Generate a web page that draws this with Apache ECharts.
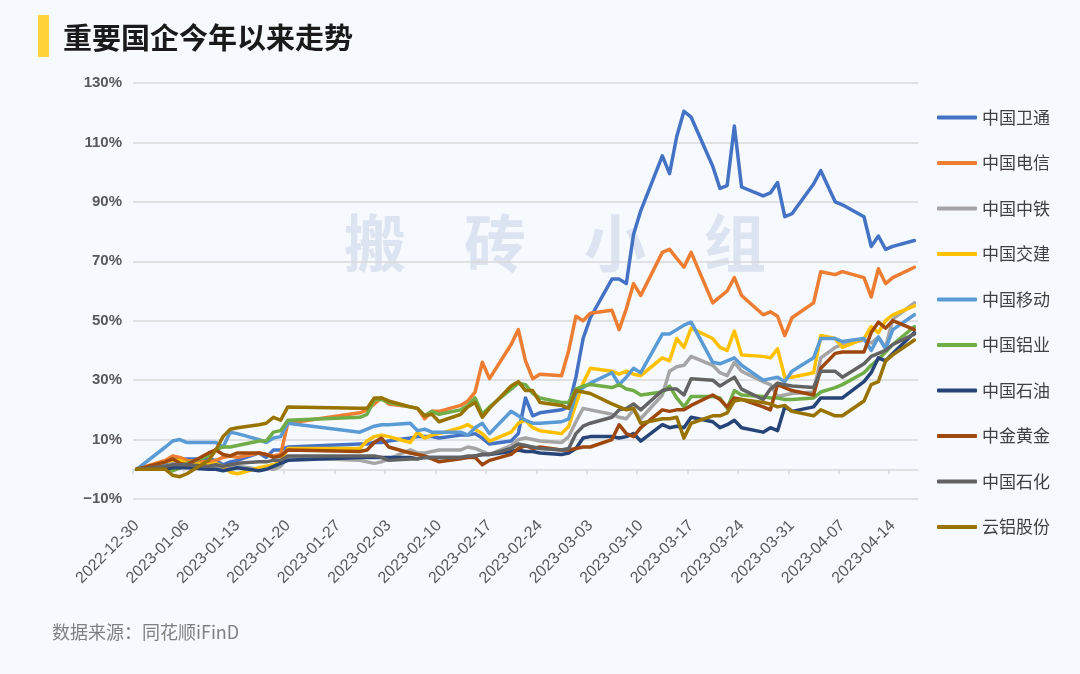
<!DOCTYPE html>
<html><head><meta charset="utf-8">
<script src="https://cdn.jsdelivr.net/npm/echarts@6/dist/echarts.min.js"></script>
<style>html,body{margin:0;padding:0;background:#f6f9fd}#c{width:1080px;height:674px}</style>
</head><body><div id="c"></div>
<script>
const dates = [
'2022-12-30','2023-01-03','2023-01-04','2023-01-05','2023-01-06',
'2023-01-09','2023-01-10','2023-01-11','2023-01-12','2023-01-13',
'2023-01-16','2023-01-17','2023-01-18','2023-01-19','2023-01-20',
'2023-01-30','2023-01-31','2023-02-01','2023-02-02','2023-02-03',
'2023-02-06','2023-02-07','2023-02-08','2023-02-09','2023-02-10',
'2023-02-13','2023-02-14','2023-02-15','2023-02-16','2023-02-17',
'2023-02-20','2023-02-21','2023-02-22','2023-02-23','2023-02-24',
'2023-02-27','2023-02-28','2023-03-01','2023-03-02','2023-03-03',
'2023-03-06','2023-03-07','2023-03-08','2023-03-09','2023-03-10',
'2023-03-13','2023-03-14','2023-03-15','2023-03-16','2023-03-17',
'2023-03-20','2023-03-21','2023-03-22','2023-03-23','2023-03-24',
'2023-03-27','2023-03-28','2023-03-29','2023-03-30','2023-03-31',
'2023-04-03','2023-04-04','2023-04-06','2023-04-07',
'2023-04-10','2023-04-11','2023-04-12','2023-04-13','2023-04-14',
'2023-04-17'];

const xTickLabels = ['2022-12-30','2023-01-06','2023-01-13','2023-01-20','2023-01-27','2023-02-03','2023-02-10','2023-02-17','2023-02-24','2023-03-03','2023-03-10','2023-03-17','2023-03-24','2023-03-31','2023-04-07','2023-04-14'];
const yTicks = [-10, 10, 30, 50, 70, 90, 110, 130];

const seriesNames = ['中国卫通','中国电信','中国中铁','中国交建','中国移动','中国铝业','中国石油','中金黄金','中国石化','云铝股份'];
const seriesColors = ['#4472C4','#ED7D31','#A5A5A5','#FFC000','#5B9BD5','#70AD47','#264478','#9E480E','#636363','#997300'];

const weitong = [0,2,3.5,3.5,3.5, 3.5,3,1.5,2.5,3, 5.5,4,6.5,6.5,7.5, 8.5,8.5,9,9,9.5, 10.5,11,11,11,10.5, 11.5,11.5,12,10.5,8.5, 9.5,12,24,18,19, 20,21,31,44,51, 64,64,62.5,79,87, 105.5,99.5,112,120.5,118.5, 102,94.5,95.5,115.5,95, 92,93,96.5,85,86, 96,100.5,90,89, 85,75,78.5,74,75, 77];
const dianxin = [0,3,4.5,4,3, 2.5,3,4,4.5,4, 5.5,5,4.5,5,15.5, 19,20,22,24,22, 21,20.5,17,19.5,19.5, 21.5,23,26,36,30.5, 42,47,36.5,30.5,32, 31.5,40,51.5,50,52.5, 53.5,47,54,62.5,58.5, 73,74,71,68,73, 56,58,60,64.5,58.5, 52,53,51.5,45,51, 56,66.5,65.5,66.5, 64.5,58,67.5,62.5,64.5, 68];
const zhongtie = [0,1,2,1.5,1.5, 1,0.5,0.5,0.5,1, 0,0.5,0,1,4, 3,2.5,2,2.5,3.5, 6.5,5.5,5.5,6,6.5, 6.5,7.5,7,6,5, 8,10,10.5,10,9.5, 9,11,16,20.5,20, 18.5,17.5,17,20,17, 25,33,34.5,35,38, 35,32.5,31.5,36,33, 29.5,28.5,24.5,25,25.5, 26,37.5,41,42, 43.5,42.5,44.5,41,50.5, 56];
const jiaojian = [0,2.5,3,3,2, 1.5,2,1,-1,-1.5, 0.5,1,1.5,2.5,7, 7,9.5,11,11.5,11, 9,12.5,10.5,11.5,12, 14,15,13.5,12,9.5, 12.5,15.5,16.5,14,13, 12,14.5,22,29,34, 33,32,33,32,31.5, 37.5,36.5,44,41,47.5, 44,41,40,46.5,38.5, 38,37.5,40.5,31,31, 32.5,45,44,41, 44,48,46,50,52, 55];
const yidong = [0,7.5,9.5,10,9, 9,9,7.5,12.5,12, 10,9,10.5,11,15.5, 12.5,13.5,14.5,15,15, 15.5,13,13.5,12.5,12.5, 12.5,11.5,14,15.5,12, 19.5,18,16.5,15.5,15.5, 16,17,25.5,27.5,29, 32.5,28.5,31,34,32.5, 45.5,45.5,47,48.5,49.5, 36,35.5,36.5,37.5,35, 30,30.5,31,29.5,33, 37.5,44,44,43, 44,40,44.5,40.5,47, 52];
const lvye = [0,0,-0.5,0.5,2, 4.5,6.5,7.5,7.5,8, 9.5,9.5,12.5,13,16.5, 17.5,18.5,23.5,23.5,22.5, 21,20.5,18,19.5,18.5, 20,21.5,24,18.5,21, 27,29,28.5,25.5,24, 22.5,22.5,27,28,28.5, 27.5,28.5,27,26.5,25, 26,28,24,21,24.5, 24.5,24,20.5,26.5,25, 24.5,24,24,23.5,23.5, 24,26,27.5,28.5, 32.5,35,37,39.5,42, 48];
const shiyou = [0,0,0.5,0.5,0.5, 0,0,-0.5,0,0.5, -0.5,0,1,2,3, 4,4,4,4,4, 4,3.5,4,4,4, 4,4,4.5,5,5, 6,6.5,6,6,5.5, 5,5.5,7,10.5,11, 11,10.5,11,12,9.5, 15,14,14.5,14,17.5, 16,14,15,16.5,14, 12.5,14,13,21,19.5, 21,24,24,24, 29.5,32.5,37.5,36.5,39, 46];
const huangjin = [0,2.5,3.5,2,1.5, 5.5,6.5,5,4.5,5.5, 5.5,5,4,4.5,6.5, 6,6.5,9,10.5,7.5, 5.5,5,4.5,3.5,2.5, 3.5,4,4,1.5,3, 5,7,8,7,7.5, 6.5,6.5,7,7.5,7.5, 10,15,12,11,14, 20,19.5,20,20,21.5, 25,23.5,21,24,23.5, 21,20,28.5,27.5,26.5, 25,34,39,39.5, 39.5,46,49.5,47.5,50, 47];
const shihua = [0,1,1.5,1.5,1.5, 1,1.5,1,1.5,2, 2.5,2.5,3,3,4.5, 4.5,4.5,4.5,4,3, 3.5,3.5,4,4,4, 4,4.5,4.5,5,5, 7,8.5,8,7.5,7, 6.5,7,12,14.5,15.5, 17.5,20,20.5,22,20, 26.5,27,27,25,30.5, 30,28,29.5,31,27, 23.5,27,29,28.5,28, 27.5,33,33,31, 35.5,38,39,40,42, 45.5];
const yunlv = [0,0,-2,-2.5,-1.5, 3,6.5,11,13.5,14, 15,15.5,17.5,16.5,21, 20.5,20.5,24,24,23, 21,20.5,18,18.5,16, 18.5,21,22.5,17.5,20.5, 28,29.5,26.5,26.5,22.5, 21.5,20.5,26.5,26,25.5, 22,21,20,20.5,15.5, 17,17,17.5,10.5,15.5, 18,18,19,23,23.5, 22.5,22,21,21.5,19.5, 18,20,18,18, 23,28.5,29.5,36.5,38.5, 43.5];

const seriesValues = [weitong, dianxin, zhongtie, jiaojian, yidong, lvye, shiyou, huangjin, shihua, yunlv];

const BASE = Date.UTC(2022, 11, 30);
function dayOffset(s) {
  const p = s.split('-').map(Number);
  return (Date.UTC(p[0], p[1] - 1, p[2]) - BASE) / 86400000;
}
function offsetToDate(v) {
  const d = new Date(BASE + Math.round(v) * 86400000);
  const m = String(d.getUTCMonth() + 1).padStart(2, '0');
  const dd = String(d.getUTCDate()).padStart(2, '0');
  return d.getUTCFullYear() + '-' + m + '-' + dd;
}
const lastDay = dayOffset(dates[dates.length - 1]) + 1;
const tickDays = xTickLabels.map(dayOffset);
const labelPos = tickDays.map(d => d + 0.5);

const chart = echarts.init(document.getElementById('c'), null, {renderer: 'canvas'});
const FONT = '"Noto Sans CJK SC", "Noto Sans", sans-serif';

const series = seriesNames.map((name, k) => ({
  name: name,
  type: 'line',
  xAxisIndex: 0,
  showSymbol: false,
  symbol: 'none',
  animation: false,
  itemStyle: {color: seriesColors[k]},
  lineStyle: {color: seriesColors[k], width: 3.5, cap: 'round', join: 'round'},
  data: dates.map((d, i) => [dayOffset(d) + 0.5, seriesValues[k][i]])
}));

const wmChars = ['搬', '砖', '小', '组'];
const wmGraphics = wmChars.map((ch, i) => ({
  type: 'text', z: 0, x: 375 + i * 120, y: 243,
  style: {text: ch, fill: '#dde4f1', fontSize: 62, fontWeight: 'bold', fontFamily: FONT, align: 'center', verticalAlign: 'middle'}
}));

chart.setOption({
  backgroundColor: '#f6f9fd',
  animation: false,
  color: seriesColors,
  grid: {left: 133, right: 162, top: 83, bottom: 175, containLabel: false},
  xAxis: [{
    type: 'value', min: 0, max: lastDay, interval: 7, position: 'bottom',
    axisLine: {show: true, onZero: true, lineStyle: {color: '#d9d9d9', width: 1.5}},
    axisTick: {show: true, length: 5, customValues: tickDays, lineStyle: {color: '#d9d9d9', width: 1.5}},
    axisLabel: {show: false},
    splitLine: {show: false}
  }, {
    type: 'value', min: 0, max: lastDay, interval: 7, position: 'bottom',
    axisLine: {show: false, onZero: false},
    axisTick: {show: false},
    splitLine: {show: false},
    axisLabel: {
      show: true, rotate: 45, margin: 24, customValues: labelPos,
      color: '#595959', fontSize: 16, fontFamily: '"Liberation Sans", Arial, sans-serif',
      formatter: v => offsetToDate(v - 0.5)
    }
  }],
  yAxis: {
    type: 'value', min: yTicks[0], max: yTicks[yTicks.length - 1], interval: 20,
    axisLine: {show: false}, axisTick: {show: false},
    splitLine: {show: true, lineStyle: {color: '#d9d9d9', width: 1.5}},
    axisLabel: {
      color: '#595959', fontSize: 15, fontWeight: 'bold', margin: 11,
      fontFamily: '"Liberation Sans", Arial, sans-serif',
      formatter: v => (v < 0 ? '\u2212' + Math.abs(v) : v) + '%'
    }
  },
  legend: {
    orient: 'vertical', left: 932, top: 104, itemWidth: 40, itemHeight: 4, itemGap: 28.5,
    icon: 'roundRect',
    textStyle: {fontSize: 17, color: '#404040', fontFamily: FONT},
    data: seriesNames
  },
  graphic: [
    {type: 'rect', z: 10, shape: {x: 38, y: 15, width: 11, height: 42}, style: {fill: '#FFD43B'}},
    {type: 'text', z: 10, x: 63, y: 38, style: {text: '重要国企今年以来走势', fill: '#1a1a1a', fontSize: 29, fontWeight: 'bold', fontFamily: FONT, verticalAlign: 'middle'}},
    {type: 'text', z: 10, x: 52, y: 632, style: {text: '数据来源：同花顺iFinD', fill: '#808080', fontSize: 18, fontFamily: FONT, verticalAlign: 'middle'}}
  ].concat(wmGraphics),
  series: series
});
</script>
</body></html>
